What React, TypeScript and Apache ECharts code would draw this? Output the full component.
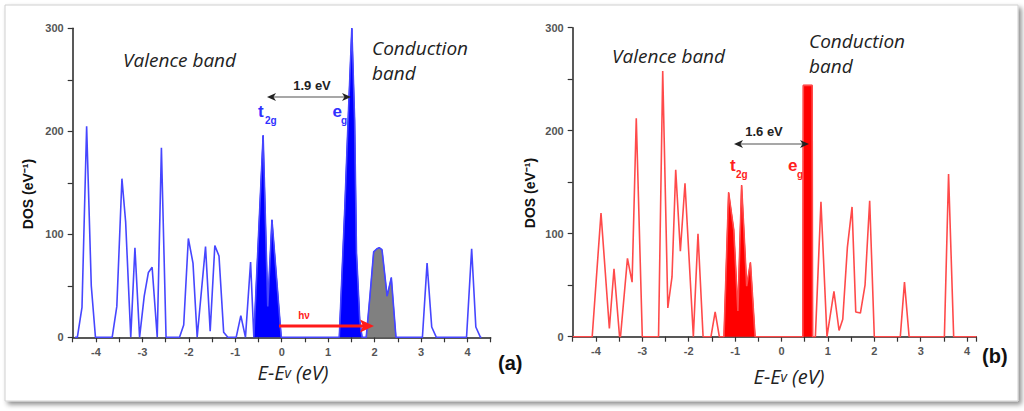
import React, { useEffect, useRef } from 'react';
import * as echarts from 'echarts';

// Panel (a): blue DOS curve, [E - Ev (eV), DOS (eV^-1)]
const dosA: number[][] = [
  [-4.45, 0], [-4.40, 0], [-4.30, 29], [-4.20, 205], [-4.10, 50], [-4.01, 0],
  [-3.65, 0], [-3.55, 30], [-3.44, 154], [-3.36, 112], [-3.25, 0], [-3.16, 87], [-3.06, 0],
  [-2.96, 40], [-2.87, 63], [-2.79, 68], [-2.68, 0], [-2.59, 184], [-2.49, 0],
  [-2.20, 0], [-2.11, 12], [-2.01, 96], [-1.91, 72], [-1.82, 0], [-1.64, 88], [-1.54, 6],
  [-1.44, 89], [-1.35, 79], [-1.25, 5], [-1.16, 0],
  [-0.98, 0], [-0.88, 21], [-0.78, 0], [-0.67, 73], [-0.60, 0],
  [-0.50, 98], [-0.40, 196], [-0.30, 30], [-0.21, 114], [-0.01, 0],
  [1.24, 0], [1.36, 127], [1.43, 211], [1.51, 300], [1.57, 211], [1.61, 82], [1.68, 17], [1.73, 0],
  [1.82, 0], [1.90, 40], [1.98, 83], [2.05, 86], [2.10, 87], [2.16, 85], [2.27, 40], [2.36, 58], [2.46, 0],
  [3.03, 0], [3.13, 72], [3.23, 10], [3.33, 0],
  [3.98, 0], [4.09, 86], [4.18, 10], [4.28, 0], [4.30, 0],
];
const t2gRangeA = [-0.60, -0.01];
const egRangeA = [1.24, 1.73];
const cbRangeA = [1.82, 2.46];

// Panel (b): red DOS curve
const dosB: number[][] = [
  [-4.50, 0], [-4.08, 0], [-3.89, 120], [-3.71, 8], [-3.61, 66], [-3.49, 0], [-3.47, 0],
  [-3.32, 76], [-3.22, 53], [-3.13, 212], [-3.00, 0],
  [-2.65, 0], [-2.56, 258], [-2.45, 28], [-2.36, 58], [-2.28, 162], [-2.18, 83], [-2.08, 149],
  [-1.90, 0], [-1.80, 100], [-1.69, 0], [-1.52, 0], [-1.43, 24], [-1.34, 0],
  [-1.24, 0], [-1.14, 140], [-1.03, 104], [-0.94, 25], [-0.86, 147], [-0.75, 49], [-0.67, 72], [-0.57, 0],
  [0.46, 0], [0.47, 244], [0.66, 244], [0.67, 0],
  [0.73, 0], [0.85, 131], [0.98, 0], [1.13, 44], [1.24, 6], [1.32, 17], [1.42, 87], [1.52, 126],
  [1.60, 24], [1.70, 23], [1.80, 50], [1.90, 132], [2.00, 0],
  [2.56, 0], [2.65, 53], [2.75, 0], [3.51, 0], [3.60, 158], [3.71, 0], [4.20, 0],
];
const t2gRangeB = [-1.24, -0.57];
const egRangeB = [0.46, 0.67];

const xMinA = -4.5, xMaxA = 4.5, xMinB = -4.5, xMaxB = 4.2;
const yMin = 0, yMax = 300;

const inRange = (d: number[][], r: number[]) => d.filter((p) => p[0] >= r[0] - 1e-9 && p[0] <= r[1] + 1e-9);

const tickFont = { fontSize: 11, color: '#555', fontWeight: 'bold' as const, fontFamily: 'Liberation Sans, Arial, sans-serif' };

function xAxisCfg(grid: number, min: number, max: number) {
  return {
    type: 'value', gridIndex: grid, min, max, interval: 0.5,
    axisLine: { show: true, onZero: false, lineStyle: { color: '#222', width: 1.5 } },
    axisTick: { show: true, inside: false, length: 5, lineStyle: { color: '#333', width: 1.2 } },
    axisLabel: {
      ...tickFont, margin: 9,
      formatter: (v: number) => (Math.abs(v - Math.round(v)) < 1e-6 ? String(Math.round(v)) : ''),
    },
    splitLine: { show: false },
  };
}
function yAxisCfg(grid: number) {
  return {
    type: 'value', gridIndex: grid, min: yMin, max: yMax, interval: 50,
    axisLine: { show: true, onZero: false, lineStyle: { color: '#222', width: 1.5 } },
    axisTick: { show: true, inside: false, length: 5, lineStyle: { color: '#333', width: 1.2 } },
    axisLabel: {
      ...tickFont, margin: 9,
      formatter: (v: number) => (v % 100 === 0 ? String(v) : ''),
    },
    splitLine: { show: false },
  };
}

const ital = 'italic 19px "Open Sans", sans-serif';
const boldSans = (s: number) => `bold ${s}px "Liberation Sans", Arial, sans-serif`;

function txt(x: number, y: number, text: string, font: string, fill: string, align = 'left', extra: any = {}) {
  return { type: 'text', x, y, z: 100, ...extra, style: { text, font, fill, align, verticalAlign: 'middle' } };
}

export default function App() {
  const ref = useRef<HTMLDivElement>(null);
  useEffect(() => {
    if (!ref.current) return;
    const chart = echarts.init(ref.current, undefined, { renderer: 'svg' });
    const blueLine = '#4646ff';
    const blueFill = '#0000ff';
    const redLine = '#ff4a4a';
    const redFill = '#ff0000';
    const lineBase = { type: 'line', showSymbol: false, symbol: 'none', silent: true };
    chart.setOption({
      animation: false,
      backgroundColor: '#ffffff',
      grid: [
        { left: 72.7, top: 28.3, width: 418, height: 309, outerBoundsMode: 'none', containLabel: false },
        { left: 572.7, top: 27.7, width: 403.7, height: 309, outerBoundsMode: 'none', containLabel: false },
      ],
      xAxis: [xAxisCfg(0, xMinA, xMaxA), xAxisCfg(1, xMinB, xMaxB)],
      yAxis: [yAxisCfg(0), yAxisCfg(1)],
      series: [
        { ...lineBase, xAxisIndex: 0, yAxisIndex: 0, data: inRange(dosA, t2gRangeA), lineStyle: { color: blueFill, width: 1 }, areaStyle: { color: blueFill, opacity: 1 }, z: 2 },
        { ...lineBase, xAxisIndex: 0, yAxisIndex: 0, data: inRange(dosA, egRangeA), lineStyle: { color: blueFill, width: 1 }, areaStyle: { color: blueFill, opacity: 1 }, z: 2 },
        { ...lineBase, xAxisIndex: 0, yAxisIndex: 0, data: inRange(dosA, cbRangeA), lineStyle: { color: blueLine, width: 1 }, areaStyle: { color: '#808080', opacity: 1 }, z: 2 },
        { ...lineBase, xAxisIndex: 0, yAxisIndex: 0, data: dosA, lineStyle: { color: blueLine, width: 1.6 }, z: 3 },
        { ...lineBase, xAxisIndex: 1, yAxisIndex: 1, data: inRange(dosB, t2gRangeB), lineStyle: { color: redFill, width: 1 }, areaStyle: { color: redFill, opacity: 1 }, z: 2 },
        { ...lineBase, xAxisIndex: 1, yAxisIndex: 1, data: inRange(dosB, egRangeB), lineStyle: { color: redFill, width: 1 }, areaStyle: { color: redFill, opacity: 1 }, z: 2 },
        { ...lineBase, xAxisIndex: 1, yAxisIndex: 1, data: dosB, lineStyle: { color: redLine, width: 1.6 }, z: 3 },
      ],
      graphic: [
        {
          type: 'rect', z: -10, shape: { x: 5, y: 5, width: 1013, height: 396 },
          style: { fill: '#ffffff', stroke: '#d0d0d0', lineWidth: 1, shadowBlur: 5, shadowOffsetX: 3, shadowOffsetY: 3, shadowColor: 'rgba(0,0,0,0.45)' },
        },
        // y axis names
        txt(28, 194, 'DOS (eV⁻¹)', boldSans(14), '#111', 'center', { rotation: Math.PI / 2 }),
        txt(530, 193, 'DOS (eV⁻¹)', boldSans(14), '#111', 'center', { rotation: Math.PI / 2 }),
        // band labels
        txt(123, 60, 'Valence band', ital, '#222'),
        txt(372, 48, 'Conduction', ital, '#222'),
        txt(372, 73, 'band', ital, '#222'),
        txt(612, 56, 'Valence band', ital, '#222'),
        txt(809, 41, 'Conduction', ital, '#222'),
        txt(809, 66, 'band', ital, '#222'),
        // gap labels
        txt(312, 85, '1.9 eV', boldSans(13), '#222', 'center'),
        txt(764, 131, '1.6 eV', boldSans(13), '#222', 'center'),
        // double arrows
        { type: 'line', z: 100, shape: { x1: 270, y1: 97, x2: 348, y2: 97 }, style: { stroke: '#8a8a8a', lineWidth: 1.3 } },
        { type: 'polygon', z: 100, shape: { points: [[267, 97], [276, 93], [273.5, 97], [276, 101]] }, style: { fill: '#222' } },
        { type: 'polygon', z: 100, shape: { points: [[351, 97], [342, 93], [344.5, 97], [342, 101]] }, style: { fill: '#222' } },
        { type: 'line', z: 100, shape: { x1: 737, y1: 144, x2: 806, y2: 144 }, style: { stroke: '#8a8a8a', lineWidth: 1.3 } },
        { type: 'polygon', z: 100, shape: { points: [[734, 144], [743, 140], [740.5, 144], [743, 148]] }, style: { fill: '#222' } },
        { type: 'polygon', z: 100, shape: { points: [[809, 144], [800, 140], [802.5, 144], [800, 148]] }, style: { fill: '#222' } },
        // orbital labels
        txt(258, 111, 't', boldSans(17), '#3030ff'),
        txt(265, 120, '2g', boldSans(10), '#3030ff'),
        txt(332.5, 111.5, 'e', boldSans(17), '#3030ff'),
        txt(341, 120, 'g', boldSans(10), '#3030ff'),
        txt(730, 165, 't', boldSans(17), '#ff2020'),
        txt(736, 174, '2g', boldSans(10), '#ff2020'),
        txt(788, 165, 'e', boldSans(17), '#ff2020'),
        txt(797, 174, 'g', boldSans(10), '#ff2020'),
        // h nu arrow
        { type: 'line', z: 100, shape: { x1: 279, y1: 326, x2: 363, y2: 326 }, style: { stroke: '#ff1a1a', lineWidth: 3 } },
        { type: 'polygon', z: 100, shape: { points: [[374, 326], [360, 319.5], [363, 326], [360, 332.5]] }, style: { fill: '#ff1a1a' } },
        txt(304, 315, 'hν', boldSans(10), '#ff2020', 'center'),
        // x axis names
        {
          type: 'text', x: 293, y: 372, z: 100,
          style: {
            text: '{a|E-E}{b|v}{a| (eV)}', align: 'center', verticalAlign: 'middle',
            rich: { a: { font: 'italic 20px "Open Sans", sans-serif', fill: '#222' }, b: { font: 'italic 14px "Open Sans", sans-serif', fill: '#222' } },
          },
        },
        {
          type: 'text', x: 789, y: 376, z: 100,
          style: {
            text: '{a|E-E}{b|v}{a| (eV)}', align: 'center', verticalAlign: 'middle',
            rich: { a: { font: 'italic 20px "Open Sans", sans-serif', fill: '#222' }, b: { font: 'italic 14px "Open Sans", sans-serif', fill: '#222' } },
          },
        },
        txt(498, 363, '(a)', boldSans(20), '#111'),
        txt(982, 356, '(b)', boldSans(20), '#111'),
      ],
    });
    return () => chart.dispose();
  }, []);
  return <div ref={ref} style={{ position: 'absolute', left: 0, top: 0, width: 1024, height: 411 }} />;
}
